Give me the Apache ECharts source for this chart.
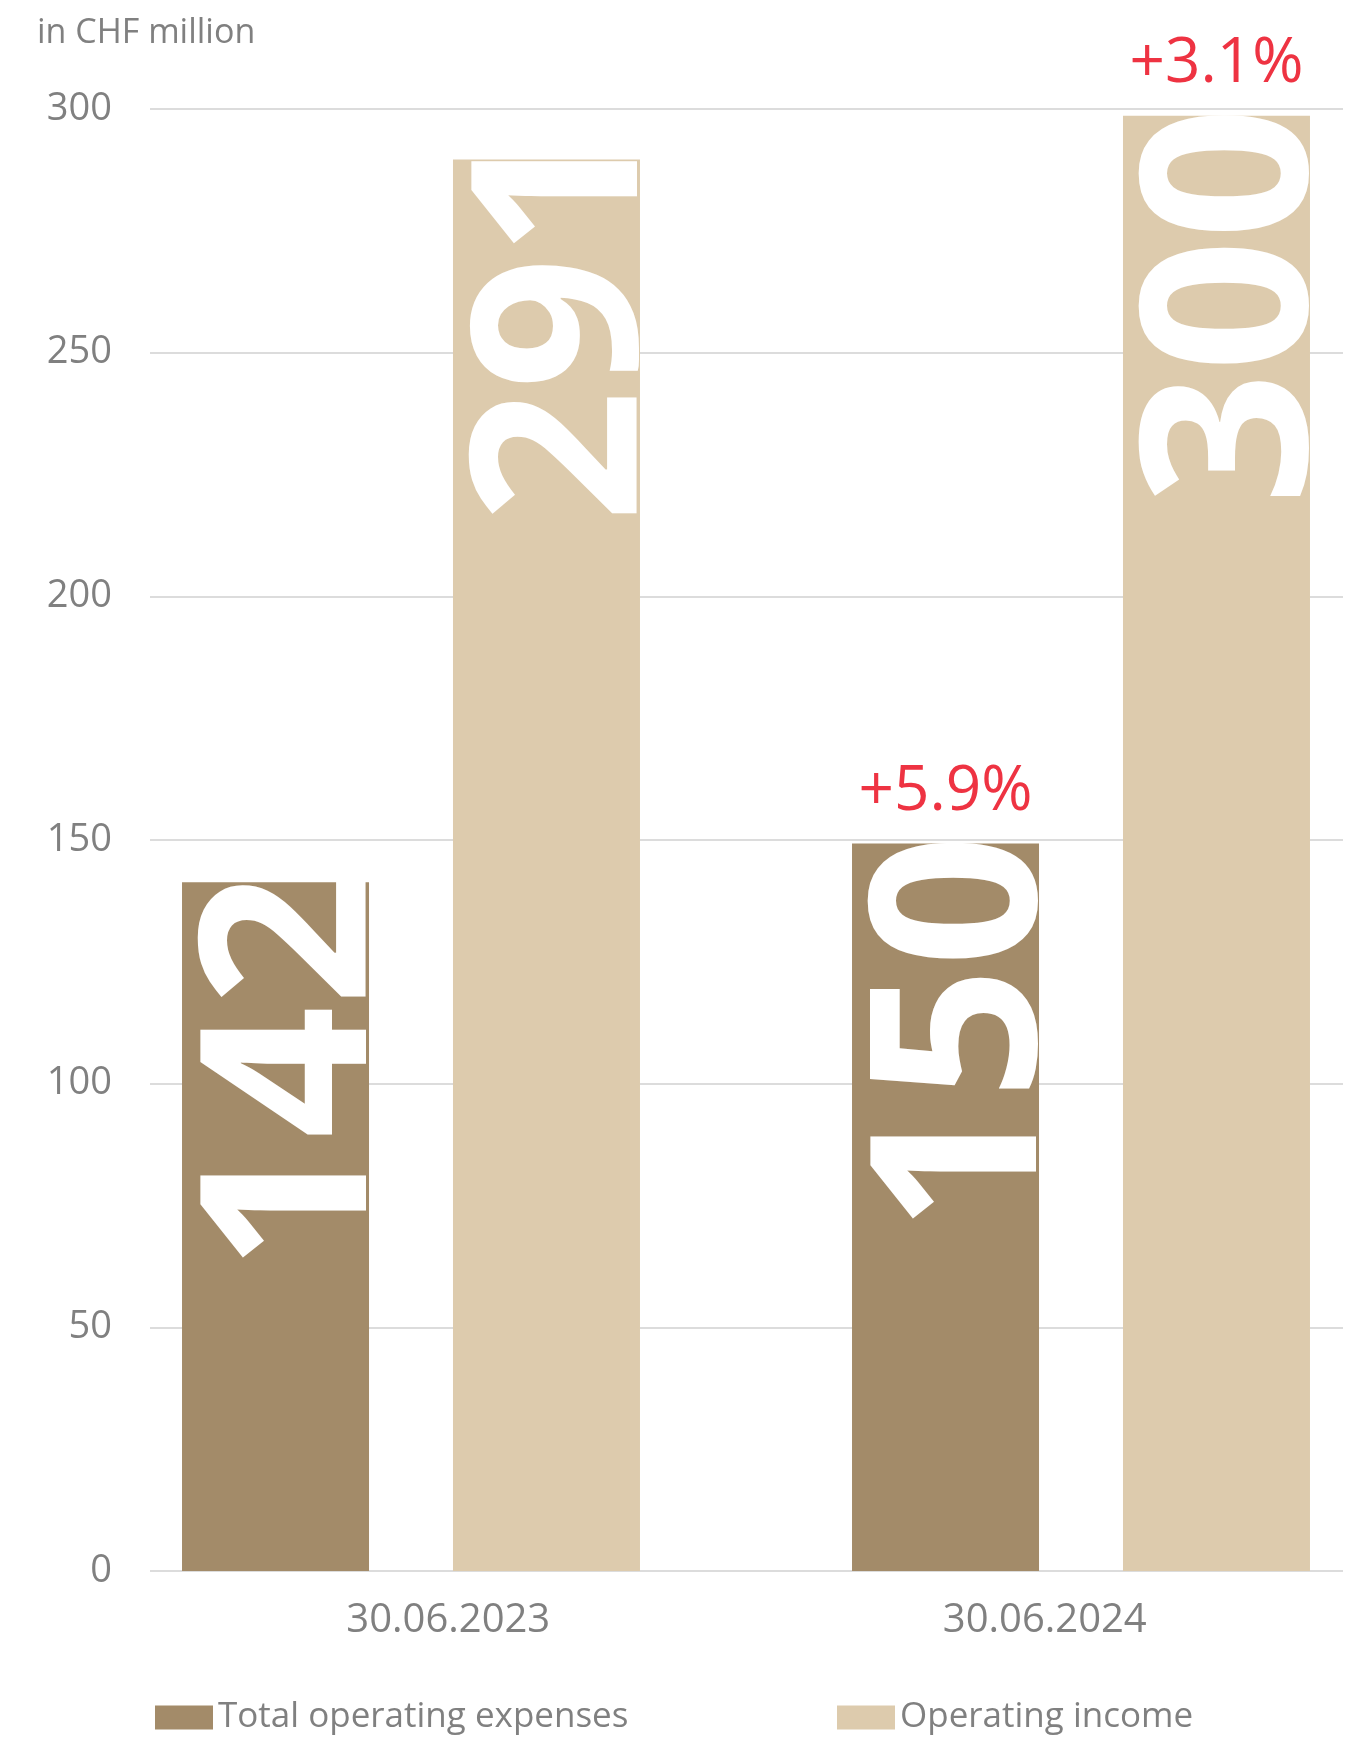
<!DOCTYPE html>
<html>
<head>
<meta charset="utf-8">
<script src="https://cdn.jsdelivr.net/npm/echarts@6/dist/echarts.min.js"></script>
<style>
  html, body { margin: 0; padding: 0; background: #fff; }
  #chart { width: 1353px; height: 1737px; }
</style>
</head>
<body>
<div id="chart"></div>
<script>
// Reporting dates
const categories = ['30.06.2023', '30.06.2024'];
// Values in CHF million
const expenses = [142, 150];
const income = [291, 300];
// Year-on-year change shown above the latest bars
const expenseChange = '+5.9%';
const incomeChange = '+3.1%';
// Value axis
const yMin = 0;
const yMax = 300;
const yStep = 50;
// The bars sit on their own hidden value axis, drawn a touch shorter than the gridlines
const barAxisMax = 301.4;

const seriesNames = ['Total operating expenses', 'Operating income'];
const font = '"Open Sans", "Noto Sans", sans-serif';
const grey = '#808080';
const red = '#EE3342';

const valueLabel = {
  show: true,
  position: ['100%', 0],
  rotate: 90,
  align: 'right',
  verticalAlign: 'bottom',
  offset: [9, 47],
  color: '#ffffff',
  fontFamily: font,
  fontWeight: 'bold',
  fontSize: 232,
  lineHeight: 232
};

// A tabular "1" at the end of a number leaves extra room after it;
// pull such labels up so the glyph still meets the top of the bar.
function barItems(values) {
  return values.map(v => ({
    value: v,
    label: { offset: [String(v).endsWith('1') ? 35 : 9, 47] }
  }));
}

function changeMark(cat, val, text) {
  return {
    symbol: 'circle',
    symbolSize: 1,
    itemStyle: { color: 'rgba(0,0,0,0)' },
    label: {
      show: true,
      position: 'top',
      distance: 20,
      color: red,
      fontFamily: font,
      fontSize: 62,
      formatter: text
    },
    data: [{ coord: [cat, val] }]
  };
}

const legendText = { fontFamily: font, fontSize: 35, color: grey };

const chart = echarts.init(document.getElementById('chart'), null, { renderer: 'canvas' });
chart.setOption({
  backgroundColor: '#ffffff',
  animation: false,
  title: {
    text: 'in CHF million',
    left: 37,
    top: 16,
    padding: 0,
    textStyle: { fontFamily: font, fontSize: 34, fontWeight: 'normal', color: grey }
  },
  legend: [
    {
      data: [seriesNames[0]],
      left: 155,
      top: 1700,
      padding: 0,
      icon: 'rect',
      itemWidth: 58,
      itemHeight: 24,
      textStyle: legendText
    },
    {
      data: [seriesNames[1]],
      left: 837,
      top: 1700,
      padding: 0,
      icon: 'rect',
      itemWidth: 58,
      itemHeight: 24,
      textStyle: legendText
    }
  ],
  grid: [
    { left: 150, right: 10, top: 109, bottom: 166 },
    { left: 411, width: 670, top: 109, bottom: 166 }
  ],
  xAxis: [
    {
      gridIndex: 0,
      type: 'category',
      data: categories,
      axisLine: { show: false },
      axisTick: { show: false },
      axisLabel: { margin: 30, fontFamily: font, fontSize: 40, color: grey }
    },
    {
      gridIndex: 1,
      type: 'category',
      data: categories,
      boundaryGap: false,
      show: false
    }
  ],
  yAxis: [
    {
      gridIndex: 0,
      type: 'value',
      min: yMin,
      max: yMax,
      interval: yStep,
      axisLine: { show: false },
      axisTick: { show: false },
      axisLabel: { margin: 38, fontFamily: font, fontSize: 38, color: grey },
      splitLine: { lineStyle: { color: '#dcdcdc', width: 2 } }
    },
    {
      gridIndex: 1,
      type: 'value',
      min: yMin,
      max: barAxisMax,
      show: false,
      splitLine: { show: false }
    }
  ],
  series: [
    {
      name: seriesNames[0],
      type: 'bar',
      xAxisIndex: 1,
      yAxisIndex: 1,
      data: barItems(expenses),
      barWidth: 187,
      barGap: '44.9%',
      itemStyle: { color: '#A38B69' },
      label: valueLabel,
      markPoint: changeMark(categories[1], expenses[1], expenseChange)
    },
    {
      name: seriesNames[1],
      type: 'bar',
      xAxisIndex: 1,
      yAxisIndex: 1,
      data: barItems(income),
      barWidth: 187,
      barGap: '44.9%',
      itemStyle: { color: '#DDCBAD' },
      label: valueLabel,
      markPoint: changeMark(categories[1], income[1], incomeChange)
    }
  ]
});
</script>
</body>
</html>
